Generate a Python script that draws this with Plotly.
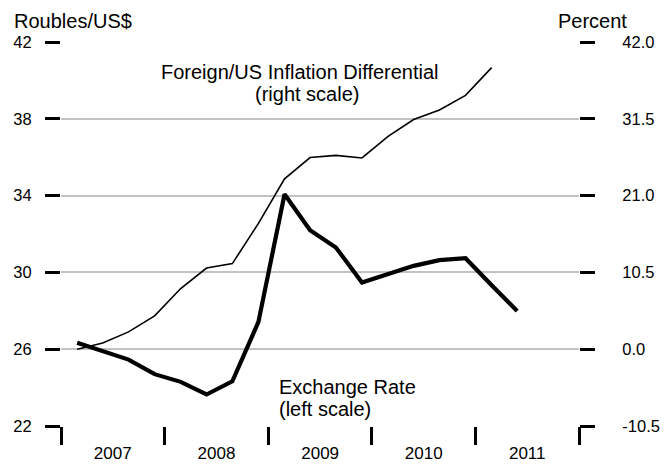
import pandas as pd
import plotly.graph_objects as go

# Quarterly observations
start_quarter = "2007Q1"
exchange_rate = [26.33, 25.88, 25.46, 24.70, 24.30, 23.64, 24.33, 27.42, 34.07,
                 32.20, 31.30, 29.47, 29.89, 30.34, 30.64, 30.74, 29.33, 27.99]
inflation_diff = [0.0, 0.86, 2.37, 4.55, 8.29, 11.1, 11.7, 17.2, 23.3,
                  26.2, 26.5, 26.15, 29.1, 31.4, 32.7, 34.7, 38.5]

left_ticks = [22, 26, 30, 34, 38, 42]
right_ticks = [-10.5, 0.0, 10.5, 21.0, 31.5, 42.0]
right_tick_text = ["-10.5", "0.0", "10.5", "21.0", "31.5", "42.0"]

# quarter positions, plotted a little after each quarter's start
def quarter_dates(n):
    q = pd.period_range(start_quarter, periods=n, freq="Q")
    return q.to_timestamp(how="start") + pd.Timedelta(days=57)

FONT = "Liberation Sans, Arial, sans-serif"

fig = go.Figure()
fig.add_trace(go.Scatter(
    x=quarter_dates(len(inflation_diff)), y=inflation_diff, yaxis="y2",
    mode="lines", line=dict(color="black", width=1.6), showlegend=False))
fig.add_trace(go.Scatter(
    x=quarter_dates(len(exchange_rate)), y=exchange_rate, yaxis="y",
    mode="lines", line=dict(color="black", width=4.2), showlegend=False))

fig.update_layout(
    width=670, height=464,
    margin=dict(l=60.5, r=91, t=42, b=38),
    paper_bgcolor="white", plot_bgcolor="white",
    font=dict(family=FONT, color="black", size=16.5),
    xaxis=dict(
        type="date", range=["2007-01-01", "2012-01-01"],
        tick0="2007-01-01", dtick="M12", tickformat="%Y",
        ticklabelmode="period", ticks="outside", ticklen=18, tickwidth=2.5,
        tickcolor="black", showgrid=False, showline=False, zeroline=False,
        tickfont=dict(size=17), ticklabelstandoff=-6, automargin=False),
    yaxis=dict(
        range=[22, 42], tickvals=left_ticks, ticks="outside", ticklen=15,
        tickwidth=2.7, tickcolor="black", showgrid=True, gridcolor="#c2c2c2",
        gridwidth=2, zeroline=False, showline=False, ticklabelstandoff=10,
        automargin=False),
    yaxis2=dict(
        range=[-10.5, 42], tickvals=right_ticks, ticktext=right_tick_text,
        overlaying="y", side="right", ticks="outside", ticklen=15,
        tickwidth=2.7, tickcolor="black", showgrid=False, zeroline=False,
        showline=False, ticklabelstandoff=24, automargin=False),
)

def label(text, x, y, size=20):
    fig.add_annotation(text=text, x=x, y=y, xref="paper", yref="paper",
                       xanchor="left", yanchor="middle", showarrow=False,
                       font=dict(family=FONT, size=size, color="black"))

label("Roubles/US$", -0.094, 1.054)
label("Percent", 0.955, 1.054)
label("Foreign/US Inflation Differential", 0.189, 0.922)
label("(right scale)", 0.371, 0.864)
label("Exchange Rate", 0.417, 0.102)
label("(left scale)", 0.417, 0.043)

fig.write_html("out.html")
